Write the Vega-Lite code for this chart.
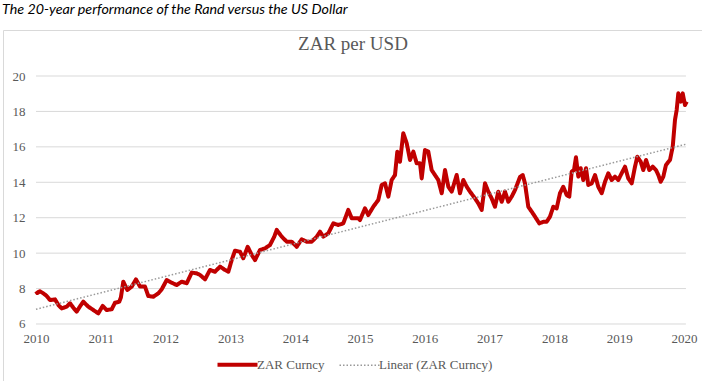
{
  "$schema": "https://vega.github.io/schema/vega-lite/v6.json",
  "autosize": "none",
  "padding": {"left": 3, "top": 30, "right": 0, "bottom": 0},
  "background": "white",
  "width": 699,
  "height": 351,
  "config": {"view": {"stroke": "#d9d9d9", "strokeWidth": 1}},
  "title": {"text": "The 20-year performance of the Rand versus the US Dollar", "anchor": "start", "frame": "group", "font": "Lato", "fontStyle": "italic", "fontWeight": "normal", "fontSize": 14.3, "color": "#000000", "offset": 2, "baseline": "alphabetic", "dx": -1},
  "resolve": {"axis": {"x": "independent"}},
  "encoding": {
    "y": {"field": "v", "type": "quantitative", "scale": {"domain": [2.782, 22.597], "nice": false, "zero": false},
      "axis": {"values": [6, 8, 10, 12, 14, 16, 18, 20], "grid": false, "domain": false, "ticks": false, "labelPadding": 0, "offset": -22, "title": null, "labelFont": "Liberation Serif", "labelFontSize": 13, "labelColor": "#595959"}}
  },
  "layer": [
    {
      "data": {"values": [{"v": 6}, {"v": 8}, {"v": 10}, {"v": 12}, {"v": 14}, {"v": 16}, {"v": 18}, {"v": 20}]},
      "mark": {"type": "rule", "color": "#d9d9d9", "strokeWidth": 1},
      "encoding": {
        "x": {"datum": 2010, "type": "quantitative", "scale": {"domain": [2009.4907, 2020.2778], "nice": false, "zero": false},
          "axis": {"values": [2010, 2011, 2012, 2013, 2014, 2015, 2016, 2017, 2018, 2019, 2020], "format": "d", "grid": false, "domain": false, "ticks": false, "orient": "bottom", "offset": -49, "labelPadding": 0, "labelBaseline": "top", "labelFlush": false, "labelOverlap": false, "title": null, "labelFont": "Liberation Serif", "labelFontSize": 13, "labelColor": "#595959"}},
        "x2": {"datum": 2020.03}
      }
    },
    {
      "data": {"values": [
        {"t":2010.0,"v":7.85,"series":"ZAR Curncy"},{"t":2010.02,"v":7.75,"series":"ZAR Curncy"},{"t":2010.06,"v":7.85,"series":"ZAR Curncy"},{"t":2010.113,"v":7.73,"series":"ZAR Curncy"},{"t":2010.16,"v":7.6,"series":"ZAR Curncy"},{"t":2010.216,"v":7.35,"series":"ZAR Curncy"},{"t":2010.293,"v":7.39,"series":"ZAR Curncy"},{"t":2010.35,"v":7.05,"series":"ZAR Curncy"},{"t":2010.397,"v":6.88,"series":"ZAR Curncy"},{"t":2010.474,"v":6.98,"series":"ZAR Curncy"},
        {"t":2010.525,"v":7.17,"series":"ZAR Curncy"},{"t":2010.58,"v":6.9,"series":"ZAR Curncy"},{"t":2010.628,"v":6.70,"series":"ZAR Curncy"},{"t":2010.68,"v":7.0,"series":"ZAR Curncy"},{"t":2010.730,"v":7.26,"series":"ZAR Curncy"},{"t":2010.807,"v":6.98,"series":"ZAR Curncy"},{"t":2010.884,"v":6.79,"series":"ZAR Curncy"},{"t":2010.961,"v":6.60,"series":"ZAR Curncy"},{"t":2011.029,"v":7.02,"series":"ZAR Curncy"},{"t":2011.091,"v":6.79,"series":"ZAR Curncy"},
        {"t":2011.168,"v":6.83,"series":"ZAR Curncy"},{"t":2011.219,"v":7.20,"series":"ZAR Curncy"},{"t":2011.285,"v":7.26,"series":"ZAR Curncy"},{"t":2011.31,"v":7.5,"series":"ZAR Curncy"},{"t":2011.347,"v":8.39,"series":"ZAR Curncy"},{"t":2011.409,"v":7.92,"series":"ZAR Curncy"},{"t":2011.477,"v":8.11,"series":"ZAR Curncy"},{"t":2011.543,"v":8.52,"series":"ZAR Curncy"},{"t":2011.605,"v":8.11,"series":"ZAR Curncy"},{"t":2011.682,"v":8.11,"series":"ZAR Curncy"},
        {"t":2011.733,"v":7.58,"series":"ZAR Curncy"},{"t":2011.810,"v":7.54,"series":"ZAR Curncy"},{"t":2011.887,"v":7.73,"series":"ZAR Curncy"},{"t":2011.940,"v":7.96,"series":"ZAR Curncy"},{"t":2012.017,"v":8.48,"series":"ZAR Curncy"},{"t":2012.094,"v":8.33,"series":"ZAR Curncy"},{"t":2012.171,"v":8.20,"series":"ZAR Curncy"},{"t":2012.248,"v":8.39,"series":"ZAR Curncy"},{"t":2012.326,"v":8.30,"series":"ZAR Curncy"},{"t":2012.403,"v":8.90,"series":"ZAR Curncy"},
        {"t":2012.480,"v":8.86,"series":"ZAR Curncy"},{"t":2012.531,"v":8.77,"series":"ZAR Curncy"},{"t":2012.608,"v":8.52,"series":"ZAR Curncy"},{"t":2012.685,"v":9.05,"series":"ZAR Curncy"},{"t":2012.762,"v":8.95,"series":"ZAR Curncy"},{"t":2012.840,"v":9.24,"series":"ZAR Curncy"},{"t":2012.917,"v":9.05,"series":"ZAR Curncy"},{"t":2012.968,"v":8.95,"series":"ZAR Curncy"},{"t":2013.020,"v":9.61,"series":"ZAR Curncy"},{"t":2013.071,"v":10.14,"series":"ZAR Curncy"},
        {"t":2013.148,"v":10.08,"series":"ZAR Curncy"},{"t":2013.199,"v":9.71,"series":"ZAR Curncy"},{"t":2013.267,"v":10.36,"series":"ZAR Curncy"},{"t":2013.329,"v":9.90,"series":"ZAR Curncy"},{"t":2013.380,"v":9.61,"series":"ZAR Curncy"},{"t":2013.457,"v":10.18,"series":"ZAR Curncy"},{"t":2013.534,"v":10.27,"series":"ZAR Curncy"},{"t":2013.611,"v":10.46,"series":"ZAR Curncy"},{"t":2013.677,"v":10.93,"series":"ZAR Curncy"},{"t":2013.715,"v":11.31,"series":"ZAR Curncy"},
        {"t":2013.792,"v":10.93,"series":"ZAR Curncy"},{"t":2013.869,"v":10.65,"series":"ZAR Curncy"},{"t":2013.946,"v":10.65,"series":"ZAR Curncy"},{"t":2014.023,"v":10.36,"series":"ZAR Curncy"},{"t":2014.100,"v":10.78,"series":"ZAR Curncy"},{"t":2014.177,"v":10.65,"series":"ZAR Curncy"},{"t":2014.255,"v":10.65,"series":"ZAR Curncy"},{"t":2014.332,"v":10.93,"series":"ZAR Curncy"},{"t":2014.383,"v":11.21,"series":"ZAR Curncy"},{"t":2014.434,"v":10.93,"series":"ZAR Curncy"},
        {"t":2014.511,"v":11.12,"series":"ZAR Curncy"},{"t":2014.588,"v":11.68,"series":"ZAR Curncy"},{"t":2014.665,"v":11.59,"series":"ZAR Curncy"},{"t":2014.742,"v":11.68,"series":"ZAR Curncy"},{"t":2014.819,"v":12.44,"series":"ZAR Curncy"},{"t":2014.872,"v":11.97,"series":"ZAR Curncy"},{"t":2014.974,"v":11.97,"series":"ZAR Curncy"},{"t":2015.0,"v":11.87,"series":"ZAR Curncy"},{"t":2015.077,"v":12.53,"series":"ZAR Curncy"},{"t":2015.128,"v":12.15,"series":"ZAR Curncy"},
        {"t":2015.205,"v":12.62,"series":"ZAR Curncy"},{"t":2015.282,"v":13.0,"series":"ZAR Curncy"},{"t":2015.335,"v":13.85,"series":"ZAR Curncy"},{"t":2015.386,"v":13.94,"series":"ZAR Curncy"},{"t":2015.437,"v":13.19,"series":"ZAR Curncy"},{"t":2015.489,"v":14.13,"series":"ZAR Curncy"},{"t":2015.540,"v":14.41,"series":"ZAR Curncy"},{"t":2015.576,"v":15.73,"series":"ZAR Curncy"},{"t":2015.617,"v":15.16,"series":"ZAR Curncy"},{"t":2015.668,"v":16.77,"series":"ZAR Curncy"},
        {"t":2015.721,"v":16.20,"series":"ZAR Curncy"},{"t":2015.772,"v":15.26,"series":"ZAR Curncy"},{"t":2015.823,"v":15.73,"series":"ZAR Curncy"},{"t":2015.875,"v":15.07,"series":"ZAR Curncy"},{"t":2015.926,"v":15.07,"series":"ZAR Curncy"},{"t":2015.952,"v":14.22,"series":"ZAR Curncy"},{"t":2016.003,"v":15.82,"series":"ZAR Curncy"},{"t":2016.054,"v":15.73,"series":"ZAR Curncy"},{"t":2016.106,"v":14.69,"series":"ZAR Curncy"},{"t":2016.157,"v":14.41,"series":"ZAR Curncy"},
        {"t":2016.208,"v":14.13,"series":"ZAR Curncy"},{"t":2016.261,"v":13.38,"series":"ZAR Curncy"},{"t":2016.312,"v":14.69,"series":"ZAR Curncy"},{"t":2016.363,"v":13.75,"series":"ZAR Curncy"},{"t":2016.415,"v":13.47,"series":"ZAR Curncy"},{"t":2016.492,"v":14.41,"series":"ZAR Curncy"},{"t":2016.543,"v":13.38,"series":"ZAR Curncy"},{"t":2016.594,"v":14.13,"series":"ZAR Curncy"},{"t":2016.647,"v":13.75,"series":"ZAR Curncy"},{"t":2016.698,"v":13.47,"series":"ZAR Curncy"},
        {"t":2016.775,"v":13.09,"series":"ZAR Curncy"},{"t":2016.826,"v":12.81,"series":"ZAR Curncy"},{"t":2016.878,"v":12.44,"series":"ZAR Curncy"},{"t":2016.929,"v":13.94,"series":"ZAR Curncy"},{"t":2016.980,"v":13.47,"series":"ZAR Curncy"},{"t":2017.032,"v":13.09,"series":"ZAR Curncy"},{"t":2017.083,"v":12.62,"series":"ZAR Curncy"},{"t":2017.134,"v":13.47,"series":"ZAR Curncy"},{"t":2017.187,"v":12.90,"series":"ZAR Curncy"},{"t":2017.238,"v":13.47,"series":"ZAR Curncy"},
        {"t":2017.289,"v":12.90,"series":"ZAR Curncy"},{"t":2017.341,"v":13.19,"series":"ZAR Curncy"},{"t":2017.392,"v":13.56,"series":"ZAR Curncy"},{"t":2017.469,"v":14.3,"series":"ZAR Curncy"},{"t":2017.511,"v":14.41,"series":"ZAR Curncy"},{"t":2017.546,"v":13.94,"series":"ZAR Curncy"},{"t":2017.597,"v":12.62,"series":"ZAR Curncy"},{"t":2017.650,"v":12.34,"series":"ZAR Curncy"},{"t":2017.701,"v":12.06,"series":"ZAR Curncy"},{"t":2017.767,"v":11.68,"series":"ZAR Curncy"},
        {"t":2017.829,"v":11.77,"series":"ZAR Curncy"},{"t":2017.881,"v":11.77,"series":"ZAR Curncy"},{"t":2017.932,"v":12.06,"series":"ZAR Curncy"},{"t":2017.983,"v":12.62,"series":"ZAR Curncy"},{"t":2018.035,"v":12.53,"series":"ZAR Curncy"},{"t":2018.086,"v":13.38,"series":"ZAR Curncy"},{"t":2018.137,"v":13.75,"series":"ZAR Curncy"},{"t":2018.190,"v":13.28,"series":"ZAR Curncy"},{"t":2018.230,"v":13.19,"series":"ZAR Curncy"},{"t":2018.267,"v":14.60,"series":"ZAR Curncy"},
        {"t":2018.302,"v":14.69,"series":"ZAR Curncy"},{"t":2018.333,"v":15.41,"series":"ZAR Curncy"},{"t":2018.369,"v":14.32,"series":"ZAR Curncy"},{"t":2018.406,"v":14.79,"series":"ZAR Curncy"},{"t":2018.446,"v":14.13,"series":"ZAR Curncy"},{"t":2018.488,"v":14.79,"series":"ZAR Curncy"},{"t":2018.523,"v":13.85,"series":"ZAR Curncy"},{"t":2018.576,"v":13.94,"series":"ZAR Curncy"},{"t":2018.627,"v":14.41,"series":"ZAR Curncy"},{"t":2018.677,"v":13.75,"series":"ZAR Curncy"},
        {"t":2018.730,"v":13.38,"series":"ZAR Curncy"},{"t":2018.781,"v":14.03,"series":"ZAR Curncy"},{"t":2018.832,"v":14.51,"series":"ZAR Curncy"},{"t":2018.884,"v":14.13,"series":"ZAR Curncy"},{"t":2018.935,"v":14.32,"series":"ZAR Curncy"},{"t":2018.986,"v":14.13,"series":"ZAR Curncy"},{"t":2019.038,"v":14.51,"series":"ZAR Curncy"},{"t":2019.090,"v":14.88,"series":"ZAR Curncy"},{"t":2019.140,"v":14.22,"series":"ZAR Curncy"},{"t":2019.193,"v":13.94,"series":"ZAR Curncy"},
        {"t":2019.244,"v":14.88,"series":"ZAR Curncy"},{"t":2019.279,"v":15.44,"series":"ZAR Curncy"},{"t":2019.332,"v":15.16,"series":"ZAR Curncy"},{"t":2019.372,"v":14.69,"series":"ZAR Curncy"},{"t":2019.414,"v":15.26,"series":"ZAR Curncy"},{"t":2019.465,"v":14.69,"series":"ZAR Curncy"},{"t":2019.517,"v":14.88,"series":"ZAR Curncy"},{"t":2019.568,"v":14.69,"series":"ZAR Curncy"},{"t":2019.604,"v":14.41,"series":"ZAR Curncy"},{"t":2019.640,"v":14.03,"series":"ZAR Curncy"},
        {"t":2019.681,"v":14.32,"series":"ZAR Curncy"},{"t":2019.722,"v":14.98,"series":"ZAR Curncy"},{"t":2019.784,"v":15.26,"series":"ZAR Curncy"},{"t":2019.826,"v":16.01,"series":"ZAR Curncy"},{"t":2019.861,"v":17.52,"series":"ZAR Curncy"},{"t":2019.887,"v":18.08,"series":"ZAR Curncy"},{"t":2019.912,"v":19.02,"series":"ZAR Curncy"},{"t":2019.949,"v":18.55,"series":"ZAR Curncy"},{"t":2019.980,"v":19.02,"series":"ZAR Curncy"},{"t":2020.015,"v":18.36,"series":"ZAR Curncy"},
        {"t":2020.042,"v":18.55,"series":"ZAR Curncy"}
      ]},
      "mark": {"type": "line", "strokeWidth": 4, "strokeJoin": "round", "interpolate": "linear"},
      "encoding": {
        "x": {"field": "t", "type": "quantitative",
          "axis": {"orient": "top", "labels": false, "ticks": false, "domain": false, "grid": false, "title": "ZAR per USD", "titleFont": "Liberation Serif", "titleFontWeight": "normal", "titleFontSize": 19, "titleColor": "#595959", "titleAnchor": "middle", "titleAlign": "center", "titleBaseline": "alphabetic", "titleX": 349.5, "titleY": 19}},
        "color": {"field": "series", "type": "nominal", "scale": {"domain": ["ZAR Curncy", "Linear (ZAR Curncy)"], "range": ["#c00000", "#999999"]},
          "legend": {"title": null, "orient": "none", "legendX": 228, "legendY": 328, "direction": "horizontal", "symbolType": "stroke", "symbolSize": 1600, "symbolStrokeWidth": 2, "labelFont": "Liberation Serif", "labelFontSize": 13, "labelColor": "#595959", "labelOffset": 13, "columnPadding": 11, "padding": 0,
            "encode": {"symbols": {"update": {"strokeWidth": {"signal": "datum.value === 'ZAR Curncy' ? 4 : 1.5"}}}}}},
        "strokeDash": {"field": "series", "type": "nominal", "scale": {"domain": ["ZAR Curncy", "Linear (ZAR Curncy)"], "range": [[1, 0], [1.5, 2]]},
          "legend": {"title": null, "orient": "none", "legendX": 228, "legendY": 328, "direction": "horizontal", "symbolType": "stroke", "symbolSize": 1600, "symbolStrokeWidth": 2, "labelFont": "Liberation Serif", "labelFontSize": 13, "labelColor": "#595959", "labelOffset": 13, "columnPadding": 11, "padding": 0,
            "encode": {"symbols": {"update": {"strokeWidth": {"signal": "datum.value === 'ZAR Curncy' ? 4 : 1.5"}}}}}}
      }
    },
    {
      "data": {"values": [
        {"t": 2010.0, "v": 6.83, "series": "Linear (ZAR Curncy)"},
        {"t": 2020.042, "v": 16.16, "series": "Linear (ZAR Curncy)"}
      ]},
      "mark": {"type": "line", "strokeWidth": 1.5},
      "encoding": {
        "x": {"field": "t", "type": "quantitative", "axis": null},
        "color": {"field": "series", "type": "nominal"},
        "strokeDash": {"field": "series", "type": "nominal"}
      }
    }
  ]
}
